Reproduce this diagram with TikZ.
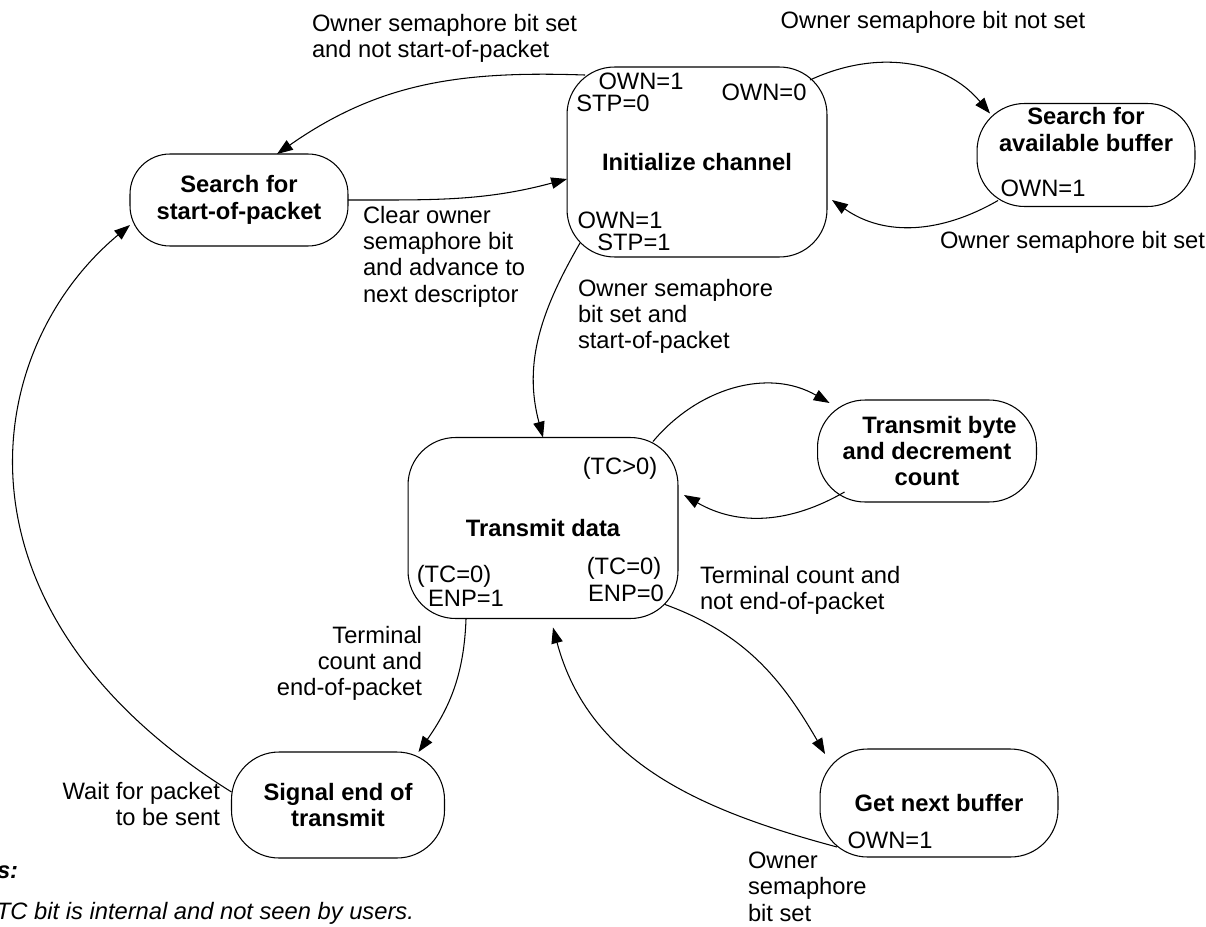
\documentclass[tikz,border=0pt]{standalone}
\usepackage{fontspec}
\setmainfont{Liberation Sans}
\usetikzlibrary{arrows.meta}
\newcommand{\txt}{\fontsize{13.5}{15}\selectfont}
\tikzstyle{every node}=[font=\txt, inner sep=0, outer sep=0]
\tikzstyle{state}=[draw, line width=0.6pt, rounded corners=0.95cm, align=center, font=\txt\bfseries]
\tikzstyle{trans}=[line width=0.6pt, -{Triangle[length=9pt,width=6.5pt]}]
\tikzstyle{lbl}=[align=left, anchor=north west]
\tikzstyle{rlbl}=[align=right, anchor=north east]

\begin{document}
\begin{tikzpicture}[x=0.02cm, y=0.02cm]
		\useasboundingbox (0,0) rectangle (1206,-926);
		\clip (0,0) rectangle (1206,-926);
		% states
		\node[state, rounded corners=0.8cm, minimum width=4.36cm, minimum height=1.84cm] (ssp) at (239,-200) {Search for\\start-of-packet};
		\node[state, minimum width=5.2cm, minimum height=3.8cm] (init) at (697,-162) {Initialize channel};
		\node[state, minimum width=4.36cm, minimum height=2.06cm] (sab) at (1086,-155) {Search for\\available buffer\\[14pt]};
		\node[state, minimum width=5.4cm, minimum height=3.62cm] (td) at (543,-528) {Transmit data};
		\node[state, minimum width=4.38cm, minimum height=2.04cm] (tb) at (927,-451) {\hspace*{0.5cm}Transmit byte\\and decrement\\count};
		\node[state, minimum width=4.26cm, minimum height=2.12cm] (sig) at (338,-805) {Signal end of\\transmit};
		\node[state, minimum width=4.76cm, minimum height=2.16cm] (gnb) at (939,-803) {Get next buffer};
		% bits inside the states
		\node (init-own1) at (641,-81) {OWN=1};
		\node (init-stp0) at (613,-103) {STP=0};
		\node (init-own0) at (764,-92) {OWN=0};
		\node (init-own1b) at (620,-220) {OWN=1};
		\node (init-stp1) at (634,-242) {STP=1};
		\node (sab-own1) at (1043,-188) {OWN=1};
		\node (td-tcgt) at (620,-468) {(TC>0)};
		\node (td-tc0a) at (454,-576) {(TC=0)};
		\node (td-enp1) at (466,-598) {ENP=1};
		\node (td-tc0b) at (624,-568) {(TC=0)};
		\node (td-enp0) at (626,-593) {ENP=0};
		\node (gnb-own1) at (890,-840) {OWN=1};
		% transitions
		\draw[trans] ([shift={(18,-8)}]init.north west) to[out=178,in=35] ([shift={(38,0)}]ssp.north);
		\draw[trans] (ssp.east) to[out=0,in=195] ([shift={(0,-17)}]init.west);
		\draw[trans] ([shift={(-17,-13)}]init.north east) to[out=25,in=130] ([shift={(13,-10)}]sab.north west);
		\draw[trans] ([shift={(21,6)}]sab.south west) to[out=210,in=-35] ([shift={(5,-38)}]init.east);
		\draw[trans] ([shift={(13,14)}]init.south west) to[out=240,in=105] (td.north);
		\draw[trans] ([shift={(-25,-4)}]td.north east) to[out=50,in=150] ([shift={(12,-3)}]tb.north west);
		\draw[trans] ([shift={(27,10)}]tb.south west) to[out=210,in=-30] ([shift={(6,33)}]td.east);
		\draw[trans] ([shift={(58,0)}]td.south west) to[out=-92,in=55] ([shift={(-26,0)}]sig.north east);
		\draw[trans] ([shift={(-13,14)}]td.south east) to[out=-20,in=120] ([shift={(5,-5)}]gnb.north west);
		\draw[trans] ([shift={(17,10)}]gnb.south west) to[out=165,in=-75] ([shift={(10,-9)}]td.south);
		\draw[trans] ([shift={(0,13)}]sig.west) .. controls (-60,-610) and (-20,-350) .. ([shift={(0,21)}]ssp.south west);
		% transition labels
		\node[lbl] (lbl-nsop) at (312,-14) {Owner semaphore bit set\\and not start-of-packet};
		\node[anchor=north] (lbl-notset) at (933,-11) {Owner semaphore bit not set};
		\node[lbl] (lbl-clear) at (363,-206) {Clear owner\\semaphore bit\\and advance to\\next descriptor};
		\node[lbl] (lbl-set) at (940,-231) {Owner semaphore bit set};
		\node[lbl] (lbl-sop) at (578,-279) {Owner semaphore\\bit set and\\start-of-packet};
		\node[rlbl] (lbl-eop) at (422,-626) {Terminal\\count and\\end-of-packet};
		\node[lbl] (lbl-neop) at (700,-566) {Terminal count and\\not end-of-packet};
		\node[lbl] (lbl-own) at (748,-852) {Owner\\semaphore\\bit set};
		\node[rlbl] (lbl-wait) at (220,-782) {Wait for packet\\to be sent};
		% notes
		\node[lbl, font=\txt\bfseries\itshape] (notes) at (-3,-866) {s:};
		\node[lbl, font=\txt\itshape] (note-tc) at (-4,-902) {TC bit is internal and not seen by users.};
	\end{tikzpicture}
\end{document}
